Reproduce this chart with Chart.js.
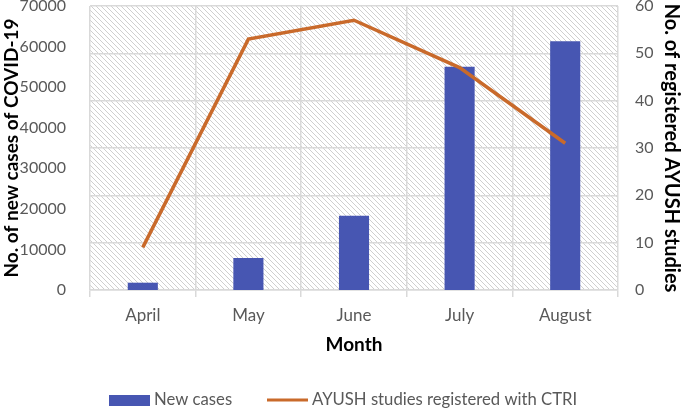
<!DOCTYPE html>
<html>
<head>
<meta charset="utf-8">
<script src="https://cdn.jsdelivr.net/npm/chart.js@4/dist/chart.umd.min.js"></script>
<style>
html,body{margin:0;padding:0;background:#fff;}
#wrap{width:685px;height:409px;position:relative;}
</style>
</head>
<body>
<div id="wrap"><canvas id="c" width="685" height="409"></canvas></div>
<script>
const categories = ['April', 'May', 'June', 'July', 'August'];
const newCases = [1800, 7900, 18300, 55000, 61300];
const ayushStudies = [9, 53, 57, 47, 31];
const leftTicks = [0, 10000, 20000, 30000, 40000, 50000, 60000, 70000];
const rightTicks = [0, 10, 20, 30, 40, 50, 60];
const seriesNames = ['New cases', 'AYUSH studies registered with CTRI'];

const FONT = 'Lato, "Open Sans", "Liberation Sans", sans-serif';
const TICK_COLOR = '#595959';
const GRID = '#d9d9d9';
const BLUE = '#4756b2';
const ORANGE = '#c96a2b';

function hatch() {
  const s = 5;
  const p = document.createElement('canvas');
  p.width = s; p.height = s;
  const g = p.getContext('2d');
  g.fillStyle = '#ffffff';
  g.fillRect(0, 0, s, s);
  g.strokeStyle = '#cfcfcf';
  g.lineWidth = 1;
  g.beginPath();
  g.moveTo(-1, -1); g.lineTo(s + 1, s + 1);
  g.moveTo(-1, s - 1); g.lineTo(1, s + 1);
  g.moveTo(s - 1, -1); g.lineTo(s + 1, 1);
  g.stroke();
  return p;
}

const bgPlugin = {
  id: 'bg',
  beforeDraw(chart) {
    const {ctx, chartArea: a} = chart;
    ctx.save();
    ctx.fillStyle = ctx.createPattern(hatch(), 'repeat');
    ctx.fillRect(a.left, a.top, a.right - a.left, a.bottom - a.top);
    ctx.restore();
  }
};

const legendPlugin = {
  id: 'customLegend',
  afterDraw(chart) {
    const ctx = chart.ctx;
    const ds = chart.data.datasets;
    const y = 400;
    ctx.save();
    ctx.font = '16.7px ' + FONT;
    ctx.textBaseline = 'middle';
    ctx.fillStyle = ds[0].backgroundColor;
    ctx.fillRect(109, y - 5, 41, 11);
    ctx.fillStyle = TICK_COLOR;
    ctx.fillText(ds[0].label, 154, y);
    ctx.strokeStyle = ds[1].borderColor;
    ctx.lineWidth = 3;
    ctx.beginPath();
    ctx.moveTo(267, y); ctx.lineTo(308, y);
    ctx.stroke();
    ctx.fillStyle = TICK_COLOR;
    ctx.fillText(ds[1].label, 312, y);
    ctx.restore();
  }
};

new Chart(document.getElementById('c'), {
  data: {
    labels: categories,
    datasets: [
      {
        type: 'bar',
        label: seriesNames[0],
        data: newCases,
        backgroundColor: BLUE,
        yAxisID: 'y',
        order: 2,
        categoryPercentage: 1,
        barPercentage: 0.285
      },
      {
        type: 'line',
        label: seriesNames[1],
        data: ayushStudies,
        borderColor: ORANGE,
        backgroundColor: ORANGE,
        borderWidth: 3.5,
        pointRadius: 0,
        tension: 0,
        yAxisID: 'y1',
        order: 1
      }
    ]
  },
  options: {
    responsive: false,
    animation: false,
    devicePixelRatio: 1,
    layout: {padding: {top: 6, bottom: 49, left: 0, right: 0}},
    plugins: {legend: {display: false}, tooltip: {enabled: false}},
    scales: {
      x: {
        offset: true,
        grid: {display: true, offset: true, color: GRID, lineWidth: 1.5, tickLength: 7, drawOnChartArea: true},
        border: {display: true, color: GRID, width: 1.5},
        ticks: {color: TICK_COLOR, font: {family: FONT, size: 17}, padding: 8, maxRotation: 0},
        title: {display: true, text: 'Month', color: '#000', font: {family: FONT, size: 19, weight: 'bold'}, padding: {top: 4, bottom: 4}},
        afterFit(s) { s.height = 70; }
      },
      y: {
        position: 'left',
        min: 0, max: 70000,
        afterBuildTicks(s) { s.ticks = leftTicks.map(v => ({value: v})); },
        grid: {display: false},
        border: {display: false},
        ticks: {color: TICK_COLOR, font: {family: FONT, size: 16}, padding: 16, callback: v => String(v)},
        title: {display: true, text: 'No. of new cases of COVID-19', color: '#000', font: {family: FONT, size: 19, weight: 'bold'}, padding: {top: 0, bottom: 0}},
        afterFit(s) { s.width = 90; s.paddingTop = 0; s.paddingBottom = 0; }
      },
      y1: {
        position: 'right',
        min: 0, max: 60,
        afterBuildTicks(s) { s.ticks = rightTicks.map(v => ({value: v})); },
        grid: {display: true, color: GRID, lineWidth: 1.5, drawTicks: false},
        border: {display: false},
        ticks: {color: TICK_COLOR, font: {family: FONT, size: 16}, padding: 17, callback: v => String(v)},
        title: {display: true, text: 'No. of registered AYUSH studies', color: '#000', font: {family: FONT, size: 20, weight: 'bold'}, padding: {top: 2, bottom: 2}},
        afterFit(s) { s.width = 67; s.paddingTop = 0; s.paddingBottom = 0; }
      }
    }
  },
  plugins: [bgPlugin, legendPlugin]
});
</script>
</body>
</html>
